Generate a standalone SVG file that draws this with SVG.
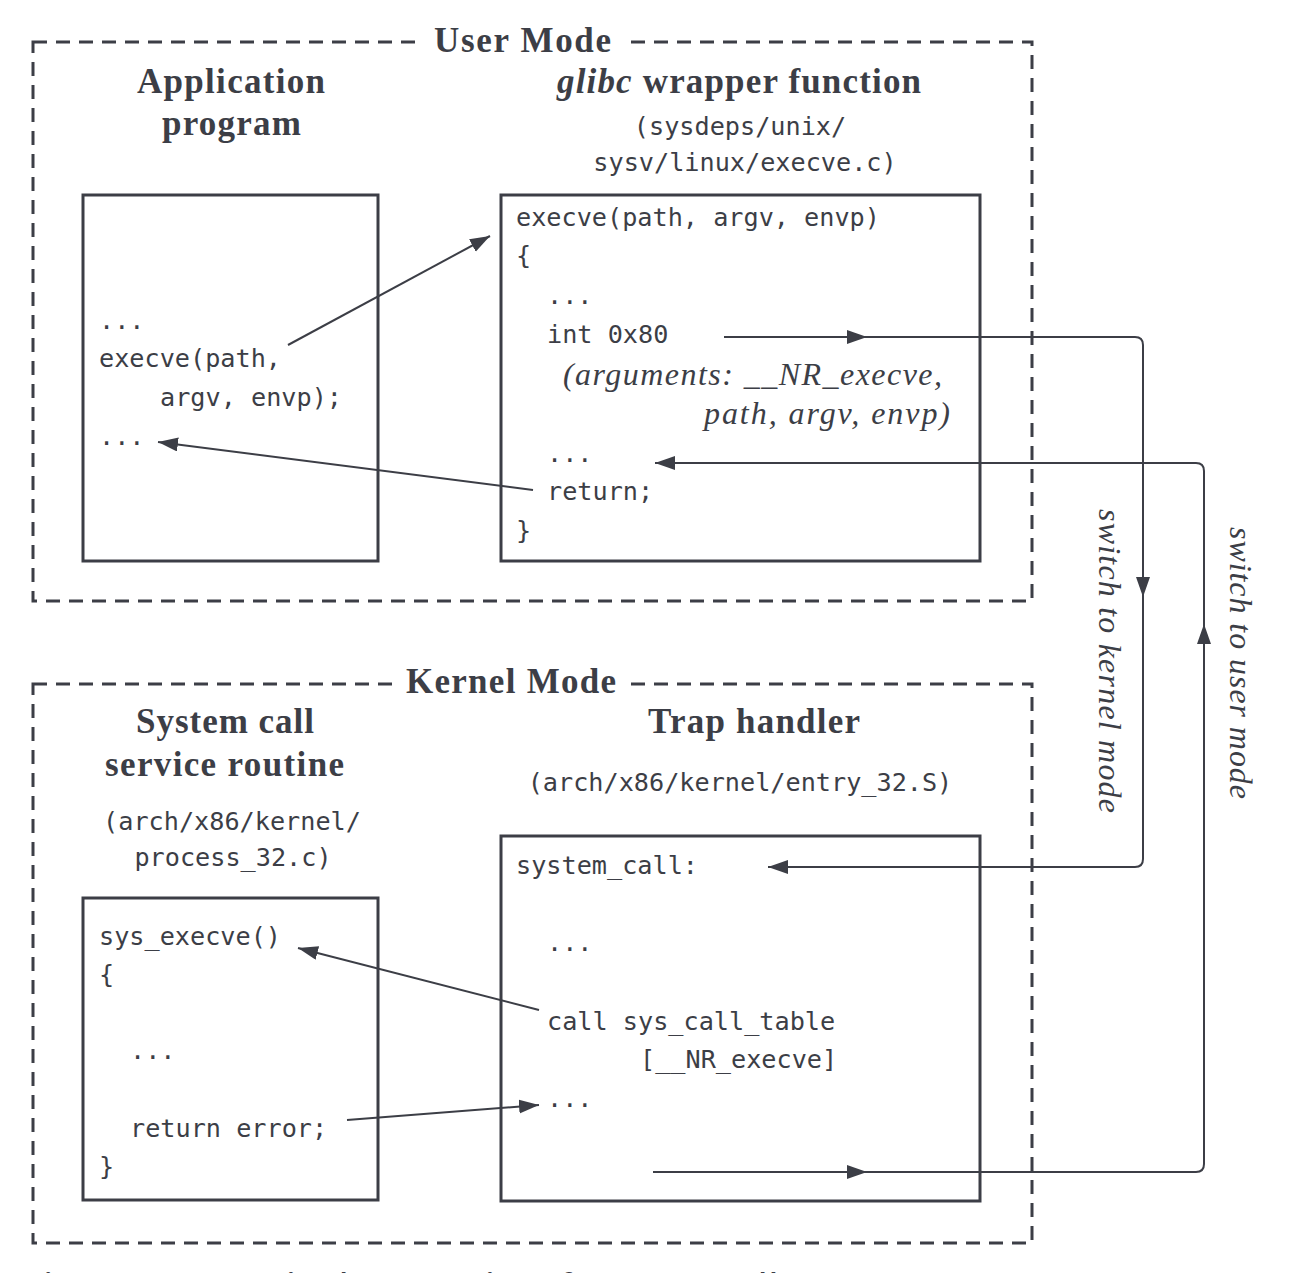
<svg xmlns="http://www.w3.org/2000/svg" width="1296" height="1273" viewBox="0 0 1296 1273">
<style>
.bg{fill:#ffffff}
.mode{fill:none;stroke:#3c3e46;stroke-width:3;stroke-dasharray:14 9}
.box{fill:#ffffff;stroke:#3c3e46;stroke-width:3}
.title{font-family:"Liberation Serif",serif;font-weight:bold;font-size:35px;fill:#3c3e46}
.mono{font-family:"DejaVu Sans Mono",monospace;font-size:25.2px;fill:#3c3e46}
.it{font-family:"Liberation Serif",serif;font-style:italic;font-size:32px;fill:#3c3e46}
.conn{fill:none;stroke:#3c3e46;stroke-width:2}
.cap{font-family:"Open Sans",sans-serif;font-weight:bold;font-size:24px;fill:#3c3e46}
</style>
<defs>
<marker id="ah" markerUnits="userSpaceOnUse" markerWidth="22" markerHeight="16" refX="20" refY="7" orient="auto">
<path d="M0,0 L20,7 L0,14 z" fill="#3c3e46"/>
</marker>
</defs>
<rect class="bg" x="0" y="0" width="1296" height="1273"/>

<g id="user-mode">
<rect class="mode" x="33" y="42" width="999" height="559"/>
<rect x="420" y="28" width="208" height="30" fill="#ffffff"/>
<text class="title" x="434" y="52" textLength="177">User Mode</text>
</g>

<g id="kernel-mode">
<rect class="mode" x="33" y="684" width="999" height="559"/>
<rect x="392" y="668" width="238" height="30" fill="#ffffff"/>
<text class="title" x="406" y="693" textLength="210">Kernel Mode</text>
</g>

<g id="application-program">
<text class="title" x="137" y="93" textLength="188">Application</text>
<text class="title" x="162" y="135" textLength="139">program</text>
<rect class="box" x="83" y="195" width="295" height="366"/>
<text class="mono" x="99" y="329">...</text>
<text class="mono" x="99" y="367">execve(path,</text>
<text class="mono" x="160" y="406">argv, envp);</text>
<text class="mono" x="99" y="445">...</text>
</g>

<g id="glibc-wrapper">
<text class="title" x="557" y="93" textLength="364"><tspan font-style="italic">glibc</tspan> wrapper function</text>
<text class="mono" x="740" y="135" text-anchor="middle">(sysdeps/unix/</text>
<text class="mono" x="745" y="171" text-anchor="middle">sysv/linux/execve.c)</text>
<rect class="box" x="501" y="195" width="479" height="366"/>
<text class="mono" x="516" y="226">execve(path, argv, envp)</text>
<text class="mono" x="516" y="264">{</text>
<text class="mono" x="547" y="304">...</text>
<text class="mono" x="547" y="343">int 0x80</text>
<text class="it" x="563" y="385" textLength="379">(arguments: __NR_execve,</text>
<text class="it" x="704" y="424" textLength="246">path, argv, envp)</text>
<text class="mono" x="547" y="462">...</text>
<text class="mono" x="547" y="500">return;</text>
<text class="mono" x="516" y="539">}</text>
</g>

<g id="service-routine">
<text class="title" x="136" y="733" textLength="178">System call</text>
<text class="title" x="105" y="776" textLength="239">service routine</text>
<text class="mono" x="232" y="830" text-anchor="middle">(arch/x86/kernel/</text>
<text class="mono" x="233" y="866" text-anchor="middle">process_32.c)</text>
<rect class="box" x="83" y="898" width="295" height="302"/>
<text class="mono" x="99" y="945">sys_execve()</text>
<text class="mono" x="99" y="983">{</text>
<text class="mono" x="130" y="1059">...</text>
<text class="mono" x="130" y="1137">return error;</text>
<text class="mono" x="99" y="1175">}</text>
</g>

<g id="trap-handler">
<text class="title" x="648" y="733" textLength="212">Trap handler</text>
<text class="mono" x="740" y="791" text-anchor="middle">(arch/x86/kernel/entry_32.S)</text>
<rect class="box" x="501" y="836" width="479" height="365"/>
<text class="mono" x="516" y="874">system_call:</text>
<text class="mono" x="547" y="951">...</text>
<text class="mono" x="547" y="1030">call sys_call_table</text>
<text class="mono" x="640" y="1068">[__NR_execve]</text>
<text class="mono" x="547" y="1107">...</text>
</g>

<g id="connectors">
<path class="conn" d="M288,345 L490,236" marker-end="url(#ah)"/>
<path class="conn" d="M533,490 L158,442" marker-end="url(#ah)"/>
<path class="conn" d="M539,1010 L298,948" marker-end="url(#ah)"/>
<path class="conn" d="M347,1120 L539,1105" marker-end="url(#ah)"/>

<path class="conn" d="M724,337 H867" marker-end="url(#ah)"/>
<path class="conn" d="M860,337 H1135 Q1143,337 1143,345 V597" marker-end="url(#ah)"/>
<path class="conn" d="M1143,590 V859 Q1143,867 1135,867 H768" marker-end="url(#ah)"/>

<path class="conn" d="M653,1172 H867" marker-end="url(#ah)"/>
<path class="conn" d="M860,1172 H1196 Q1204,1172 1204,1164 V624" marker-end="url(#ah)"/>
<path class="conn" d="M1204,630 V471 Q1204,463 1196,463 H655" marker-end="url(#ah)"/>

<text class="it" transform="translate(1099,509) rotate(90)" x="0" y="0" textLength="304">switch to kernel mode</text>
<text class="it" transform="translate(1230,527) rotate(90)" x="0" y="0" textLength="272">switch to user mode</text>
</g>

<text class="cap" x="28" y="1290" textLength="749">Figure 3-1: Steps in the execution of a system call</text>
</svg>
